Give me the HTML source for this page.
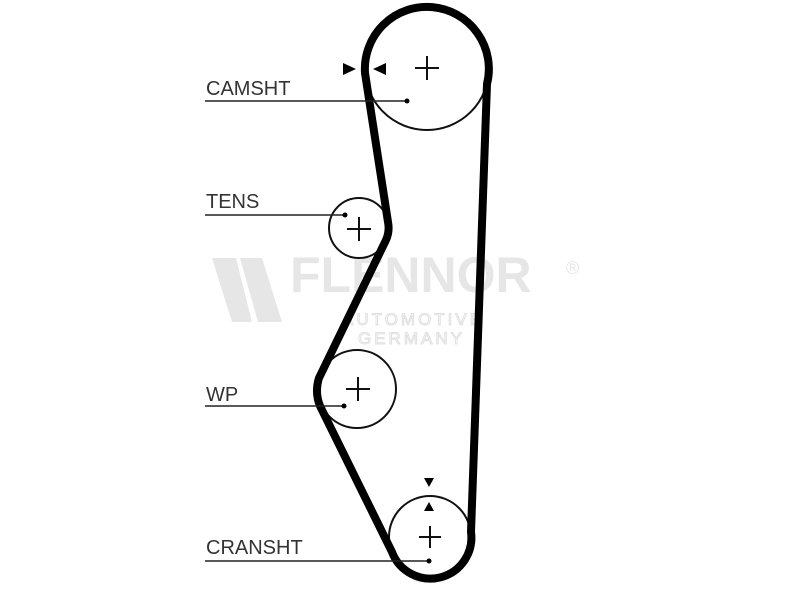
<!DOCTYPE html>
<html><head><style>body{margin:0;background:#fff}</style></head><body>
<svg width="800" height="600" xmlns="http://www.w3.org/2000/svg" style="display:block">
<rect width="800" height="600" fill="#fff"/>
<g fill="#e6e6e6">
<polygon points="212,258 236,258 252,322 232,322"/>
<polygon points="240,258 262,258 282,322 258,322"/>
<text x="290" y="292" font-family="Liberation Sans, sans-serif" font-weight="bold" font-size="50">FLENNOR</text>
<text x="566" y="274" font-family="Liberation Sans, sans-serif" font-size="18">®</text>
</g>
<g fill="none" stroke="#e0e0e0" stroke-width="1" font-family="Liberation Sans, sans-serif" font-size="17" letter-spacing="3">
<text x="342" y="325">AUTOMOTIVE</text>
<text x="358" y="344">GERMANY</text>
</g>
<g fill="none" stroke="#111" stroke-width="2">
<circle cx="427" cy="68" r="62"/>
<circle cx="359" cy="228" r="30"/>
<circle cx="357" cy="389" r="39"/>
<circle cx="430" cy="537" r="41"/>
</g>
<path d="M487,84 A62,62 0 1,0 365,73 L388,222 A30,30 0 0,1 386,240 L319,378 A40,40 0 0,0 322,410 L392,552 A41,41 0 0,0 471,532 Z" fill="none" stroke="#000" stroke-width="8" stroke-linejoin="round"/>
<g stroke="#111" stroke-width="2">
<line x1="415" y1="68" x2="439" y2="68"/><line x1="427" y1="56" x2="427" y2="80"/>
<line x1="347" y1="229" x2="371" y2="229"/><line x1="359" y1="217" x2="359" y2="241"/>
<line x1="346" y1="389" x2="370" y2="389"/><line x1="358" y1="377" x2="358" y2="401"/>
<line x1="419" y1="537" x2="441" y2="537"/><line x1="430" y1="526" x2="430" y2="548"/>
</g>
<g stroke="#222" stroke-width="1.5">
<line x1="205" y1="101" x2="407" y2="101"/>
<line x1="205" y1="215" x2="345" y2="215"/>
<line x1="205" y1="406" x2="344" y2="406"/>
<line x1="205" y1="561" x2="429" y2="561"/>
</g>
<g fill="#000">
<circle cx="407" cy="101" r="2.5"/><circle cx="345" cy="215" r="2.5"/><circle cx="344" cy="406" r="2.5"/><circle cx="429" cy="561" r="2.5"/>
<polygon points="343,63 343,75 356,69"/>
<polygon points="386,63 386,75 373,69"/>
<polygon points="424,478 434,478 429,487"/>
<polygon points="424,511 434,511 429,502"/>
</g>
<g font-family="Liberation Sans, sans-serif" font-size="20" fill="#333">
<text x="206" y="95">CAMSHT</text>
<text x="206" y="208">TENS</text>
<text x="206" y="401">WP</text>
<text x="206" y="554">CRANSHT</text>
</g>
</svg>
</body></html>
